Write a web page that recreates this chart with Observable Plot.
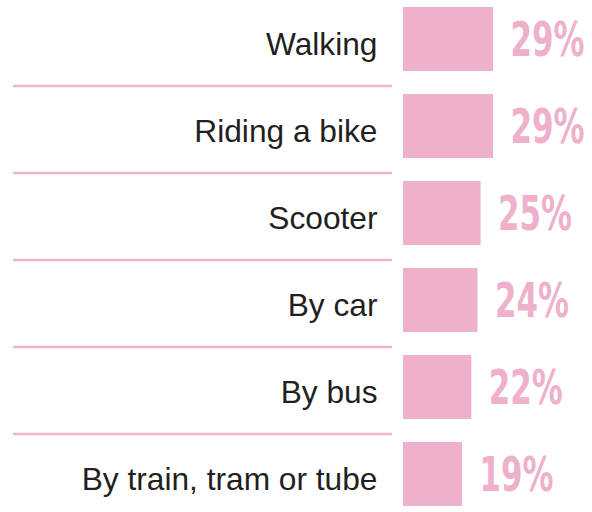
<!DOCTYPE html>
<html><head><meta charset="utf-8">
<script src="https://cdn.jsdelivr.net/npm/d3@7"></script>
<script src="https://cdn.jsdelivr.net/npm/@observablehq/plot@0.6"></script>
<style>
html,body{margin:0;padding:0;background:#fff;}
</style></head><body><div id="chart"></div>
<script>
const categories = ["Walking", "Riding a bike", "Scooter", "By car", "By bus", "By train, tram or tube"];
const values = [29, 29, 25, 24, 22, 19];
const pink = "#eeb0cb";
const data = categories.map((c, i) => ({mode: c, value: values[i]}));
const chart = Plot.plot({
  width: 592, height: 512,
  marginTop: 5, marginBottom: 5, marginLeft: 13, marginRight: 200,
  x: {domain: [0, 29], range: [403, 493], axis: null},
  y: {domain: categories, paddingInner: 0.27, paddingOuter: 0, axis: null},
  marks: [
    Plot.ruleY(data.slice(1), {y: "mode", stroke: "#f0b2cd", strokeWidth: 2.5, dy: -40.6}),
    Plot.barX(data, {y: "mode", x: "value", fill: pink}),
    Plot.text(data, {y: "mode", x: 0, text: "mode", textAnchor: "end", dx: -26, dy: 5, fontSize: 31.7, fill: "#231f20", fontFamily: "'Liberation Sans', Arial, sans-serif"}),
    Plot.text(data, {y: "mode", x: "value", text: d => d.value + "%", textAnchor: "start", dx: 17, dy: 1, fontSize: 48, fontWeight: "bold", fill: pink, fontFamily: "'DejaVu Sans Condensed', 'DejaVu Sans', sans-serif"})
  ]
});
document.getElementById("chart").appendChild(chart);
// condense the percentage labels to match the narrow display face
const groups = chart.querySelectorAll('g[aria-label="text"]');
const pct = groups[groups.length - 1];
const texts = Array.from(pct.querySelectorAll("text"));
const ref = texts[0].getComputedTextLength();
const k = 74 / ref;
texts.forEach(t => {
  const w = t.getComputedTextLength();
  t.setAttribute("textLength", (w * k).toFixed(1));
  t.setAttribute("lengthAdjust", "spacingAndGlyphs");
});
</script></body></html>
